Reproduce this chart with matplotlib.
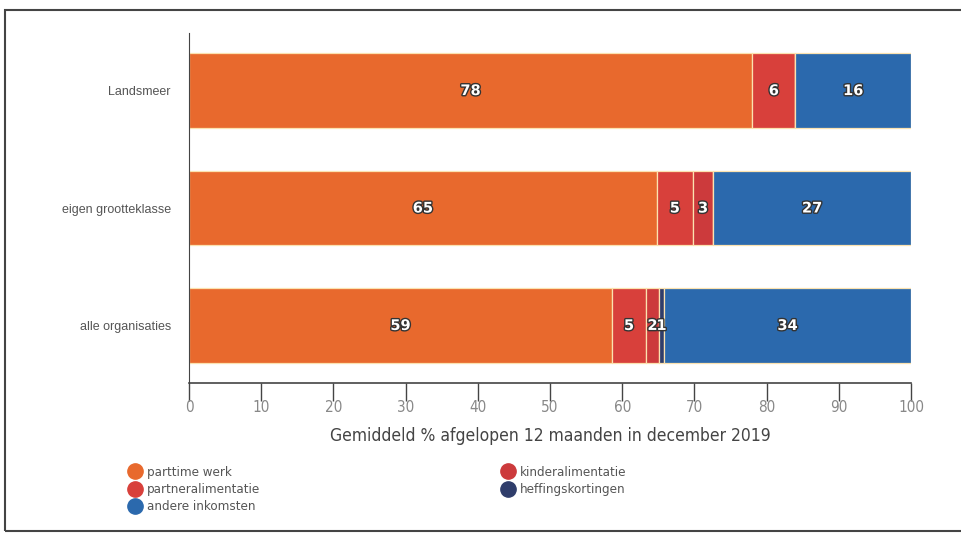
import matplotlib
matplotlib.use("Agg")
import matplotlib.pyplot as plt
import matplotlib.patheffects as pe
from matplotlib.lines import Line2D
from matplotlib.patches import Rectangle
from matplotlib import font_manager
import numpy as np

# Data
categories = ["Landsmeer", "eigen grootteklasse", "alle organisaties"]
series_names = ["parttime werk", "partneralimentatie", "kinderalimentatie",
                "heffingskortingen", "andere inkomsten"]
parttime = [78.0, 64.8, 58.6]
partner = [6.0, 5.0, 4.7]
kinder = [0.0, 2.8, 1.8]
heffing = [0.0, 0.0, 0.7]
andere = [16.0, 27.4, 34.2]
xticks = [0, 10, 20, 30, 40, 50, 60, 70, 80, 90, 100]
xlabel = "Gemiddeld % afgelopen 12 maanden in december 2019"

colors = {
    "parttime werk": "#e8692d",
    "partneralimentatie": "#d8403b",
    "kinderalimentatie": "#cc3a3c",
    "heffingskortingen": "#2f3d6b",
    "andere inkomsten": "#2b69ad",
}

# narrow font if there is one
narrow_fp = None
for f in font_manager.fontManager.ttflist:
    if "Narrow" in f.fname or "Condensed" in f.fname:
        if "Bold" not in f.fname and "Italic" not in f.fname and "Oblique" not in f.fname:
            narrow_fp = font_manager.FontProperties(fname=f.fname)
            break
if narrow_fp is None:
    narrow_fp = font_manager.FontProperties(family="DejaVu Sans")

fig = plt.figure(figsize=(9.61, 5.36), dpi=100)
ax = fig.add_axes([189 / 961, 1 - 383 / 536, 722 / 961, 350 / 536])

y = np.arange(len(categories))
left = np.zeros(len(categories))
all_series = [parttime, partner, kinder, heffing, andere]
for name, vals in zip(series_names, all_series):
    vals = np.array(vals)
    ax.barh(y, vals, left=left, height=0.637, color=colors[name],
            edgecolor="#fbe2b0", linewidth=0.9)
    for yi, (l, v) in enumerate(zip(left, vals)):
        if v > 0:
            ax.text(l + v / 2, yi, f"{round(v):d}", ha="center", va="center",
                    color="white", fontsize=10.5, fontweight="bold",
                    path_effects=[pe.withStroke(linewidth=2, foreground="#333333")])
    left = left + vals

ax.set_xlim(0, 100)
ax.set_ylim(2.49, -0.49)
ax.set_yticks(y)
ax.set_yticklabels(categories, family=["Liberation Sans", "DejaVu Sans"],
                   fontsize=9, color="#555555")
ax.tick_params(axis="y", length=0, pad=13)
ax.set_xticks(xticks)
ax.set_xticklabels([str(t) for t in xticks], fontproperties=narrow_fp,
                   fontsize=11, color="#888888")
ax.tick_params(axis="x", length=13, width=1, color="#444444", pad=-1)
ax.set_xlabel(xlabel, fontproperties=narrow_fp, fontsize=12.5, color="#444444",
              labelpad=9)

for s in ["top", "right"]:
    ax.spines[s].set_visible(False)
ax.spines["left"].set_color("#444444")
ax.spines["bottom"].set_color("#444444")
ax.spines["bottom"].set_linewidth(1.2)

# outer frame
fig.patches.append(Rectangle((5 / 961, 1 - 531 / 536), 1.0, 521 / 536,
                             transform=fig.transFigure, fill=False,
                             edgecolor="#444444", linewidth=1.5))

def handle(name):
    return Line2D([], [], marker="o", linestyle="", markersize=11,
                  markerfacecolor=colors[name], markeredgecolor=colors[name])

legend_fp = narrow_fp.copy()
legend_fp.set_size(9.5)
col1 = ["parttime werk", "partneralimentatie", "andere inkomsten"]
col2 = ["kinderalimentatie", "heffingskortingen"]
for names_, xpos in [(col1, 127 / 961), (col2, 500 / 961)]:
    leg = fig.legend([handle(n) for n in names_], names_, loc="upper left",
                     bbox_to_anchor=(xpos, 1 - 466 / 536), frameon=False,
                     prop=legend_fp, labelspacing=0.32, handletextpad=0.3,
                     handlelength=1.2, borderpad=0, borderaxespad=0)
    for t in leg.get_texts():
        t.set_color("#555555")

fig.savefig("out.png", dpi=100)
